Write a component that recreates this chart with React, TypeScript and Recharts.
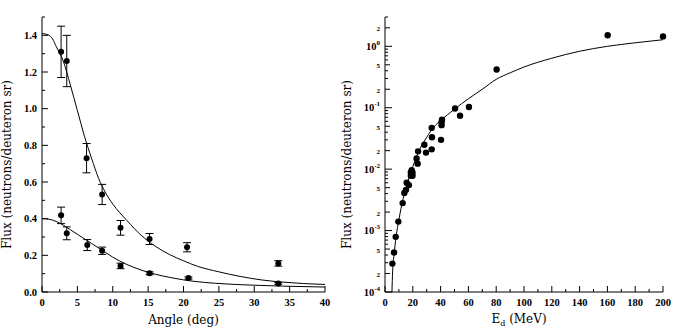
import React from 'react';
import { ComposedChart, Line, Scatter, XAxis, YAxis, ErrorBar, Label } from 'recharts';

// left panel: angular distribution, two energies
const upperPoints = [
  { x: 2.7, y: 1.31, err: 0.14 },
  { x: 3.5, y: 1.26, err: 0.14 },
  { x: 6.3, y: 0.73, err: 0.08 },
  { x: 8.5, y: 0.532, err: 0.055 },
  { x: 11.1, y: 0.35, err: 0.04 },
  { x: 15.2, y: 0.289, err: 0.03 },
  { x: 20.5, y: 0.244, err: 0.025 },
  { x: 33.4, y: 0.156, err: 0.015 },
];
const lowerPoints = [
  { x: 2.7, y: 0.418, err: 0.045 },
  { x: 3.5, y: 0.32, err: 0.035 },
  { x: 6.4, y: 0.256, err: 0.03 },
  { x: 8.5, y: 0.225, err: 0.02 },
  { x: 11.1, y: 0.142, err: 0.015 },
  { x: 15.2, y: 0.102, err: 0.008 },
  { x: 20.7, y: 0.076, err: 0.006 },
  { x: 33.4, y: 0.047, err: 0.005 },
];
const upperCurve = [
  { x: 0, y: 1.41 }, { x: 1, y: 1.4 }, { x: 1.5, y: 1.38 }, { x: 2, y: 1.34 },
  { x: 3, y: 1.26 }, { x: 4, y: 1.13 }, { x: 5, y: 0.99 }, { x: 6, y: 0.85 },
  { x: 7, y: 0.73 }, { x: 8, y: 0.62 }, { x: 9, y: 0.54 }, { x: 10, y: 0.48 },
  { x: 12, y: 0.39 }, { x: 14, y: 0.31 }, { x: 16, y: 0.25 }, { x: 18, y: 0.205 },
  { x: 20, y: 0.17 }, { x: 22, y: 0.14 }, { x: 25, y: 0.11 }, { x: 28, y: 0.085 },
  { x: 31, y: 0.066 }, { x: 34, y: 0.054 }, { x: 37, y: 0.046 }, { x: 40, y: 0.041 },
];
const lowerCurve = [
  { x: 0, y: 0.4 }, { x: 1, y: 0.397 }, { x: 2, y: 0.385 }, { x: 3, y: 0.365 },
  { x: 4, y: 0.34 }, { x: 5, y: 0.315 }, { x: 6, y: 0.29 }, { x: 7, y: 0.265 },
  { x: 8, y: 0.24 }, { x: 9, y: 0.215 }, { x: 10, y: 0.19 }, { x: 12, y: 0.15 },
  { x: 14, y: 0.12 }, { x: 16, y: 0.097 }, { x: 18, y: 0.08 }, { x: 20, y: 0.066 },
  { x: 23, y: 0.052 }, { x: 26, y: 0.044 }, { x: 30, y: 0.037 }, { x: 34, y: 0.032 },
  { x: 40, y: 0.027 },
];

// right panel: yield vs deuteron energy
const energyPoints = [
  { x: 5.3, y: 0.00029 }, { x: 6.5, y: 0.00044 }, { x: 7.7, y: 0.00079 },
  { x: 9.6, y: 0.0014 }, { x: 12.7, y: 0.0028 }, { x: 13.9, y: 0.0041 },
  { x: 15.1, y: 0.0046 }, { x: 15.6, y: 0.006 }, { x: 17.2, y: 0.0055 },
  { x: 18.6, y: 0.0078 }, { x: 19.8, y: 0.0078 }, { x: 18.6, y: 0.0088 },
  { x: 19.8, y: 0.0088 }, { x: 19.2, y: 0.0096 }, { x: 23.5, y: 0.0123 },
  { x: 22.7, y: 0.0149 }, { x: 23.8, y: 0.0195 }, { x: 28.3, y: 0.025 },
  { x: 29.5, y: 0.0186 }, { x: 33.6, y: 0.021 }, { x: 33.8, y: 0.033 },
  { x: 33.6, y: 0.047 }, { x: 40.3, y: 0.03 }, { x: 40.7, y: 0.052 },
  { x: 40.7, y: 0.058 }, { x: 41, y: 0.064 }, { x: 50.4, y: 0.097 },
  { x: 54, y: 0.074 }, { x: 60.4, y: 0.103 }, { x: 80.3, y: 0.42 },
  { x: 160.2, y: 1.51 }, { x: 200, y: 1.45 },
];
const energyCurve = [
  { x: 5, y: 0.0001 }, { x: 5.5, y: 0.00022 }, { x: 6.5, y: 0.0004 }, { x: 8, y: 0.0008 },
  { x: 10, y: 0.0015 }, { x: 13, y: 0.0033 }, { x: 16, y: 0.0058 }, { x: 20, y: 0.011 },
  { x: 25, y: 0.021 }, { x: 30, y: 0.033 }, { x: 35, y: 0.048 }, { x: 40, y: 0.062 },
  { x: 45, y: 0.077 }, { x: 50, y: 0.095 }, { x: 60, y: 0.14 }, { x: 70, y: 0.2 },
  { x: 80, y: 0.29 }, { x: 90, y: 0.37 }, { x: 100, y: 0.46 }, { x: 120, y: 0.64 },
  { x: 140, y: 0.83 }, { x: 160, y: 1.0 }, { x: 180, y: 1.14 }, { x: 200, y: 1.28 },
];

const angleTicks = [0, 2.5, 5, 7.5, 10, 12.5, 15, 17.5, 20, 22.5, 25, 27.5, 30, 32.5, 35, 37.5, 40];
const fluxTicks = [0, 0.1, 0.2, 0.3, 0.4, 0.5, 0.6, 0.7, 0.8, 0.9, 1.0, 1.1, 1.2, 1.3, 1.4, 1.5];
const energyTicks = [0, 10, 20, 30, 40, 50, 60, 70, 80, 90, 100, 110, 120, 130, 140, 150, 160, 170, 180, 190, 200];
const logDecades = [-4, -3, -2, -1, 0];
const logMantissas = [1, 2, 3, 4, 5, 6, 7, 8, 9];
const logTicks = logDecades
  .flatMap((d) => logMantissas.map((m) => m * Math.pow(10, d)))
  .filter((v) => v <= 3.0001);

const FONT = '"Liberation Serif", "DejaVu Serif", serif';
const TITLE_FONT = '"DejaVu Serif", serif';

const isAngleMajor = (v: number) => v % 5 === 0;
const isFluxMajor = (v: number) => Math.round(v * 10) % 2 === 0;
const isEnergyMajor = (v: number) => v % 20 === 0;
const mantissa = (v: number) => Math.round(v / Math.pow(10, Math.floor(Math.log10(v) + 1e-9)));
const logLen = (v: number) => (mantissa(v) === 1 ? 7 : mantissa(v) === 2 || mantissa(v) === 5 ? 5 : 3);

type Side = 'bottom' | 'top' | 'left' | 'right';

const makeTick = (side: Side, lenOf: (v: number) => number, labelOf?: (v: number) => React.ReactNode) =>
  (props: any) => {
    const { x, y, payload } = props;
    const v = payload.value as number;
    const len = lenOf(v);
    let line = null;
    if (side === 'bottom') line = <line x1={x} x2={x} y1={y} y2={y - len} stroke="#000" />;
    if (side === 'top') line = <line x1={x} x2={x} y1={y} y2={y + len} stroke="#000" />;
    if (side === 'left') line = <line x1={x} x2={x + len} y1={y} y2={y} stroke="#000" />;
    if (side === 'right') line = <line x1={x} x2={x - len} y1={y} y2={y} stroke="#000" />;
    const label = labelOf ? labelOf(v) : null;
    return (
      <g>
        {line}
        {label != null && side === 'bottom' && (
          <text x={x} y={y + 14} textAnchor="middle" fontFamily={FONT} fontWeight="bold" fontSize={10.5} fill="#000">
            {label}
          </text>
        )}
        {label != null && side === 'left' && (
          <text x={x - 5} y={y + 3.5} textAnchor="end" fontFamily={FONT} fontWeight="bold" fontSize={10.5} fill="#000">
            {label}
          </text>
        )}
      </g>
    );
  };

const logLabel = (v: number) => {
  const m = mantissa(v);
  if (m === 1) {
    const e = Math.round(Math.log10(v));
    return (
      <>
        <tspan>10</tspan>
        <tspan dy={-5} fontSize={7}>{e}</tspan>
      </>
    );
  }
  if (m === 2 || m === 5) return <tspan fontSize={7}>{m}</tspan>;
  return null;
};

const YTitle = (p: any) => {
  const vb = p.viewBox;
  const cx = vb.x + 7;
  const cy = vb.y + vb.height / 2 + 10;
  return (
    <text x={cx} y={cy} transform={`rotate(-90, ${cx}, ${cy})`} textAnchor="middle" dominantBaseline="central"
      fontFamily={TITLE_FONT} fontSize={12} fill="#000">
      Flux (neutrons/deuteron sr)
    </text>
  );
};

const dot = (r: number) => (p: any) => <circle cx={p.cx} cy={p.cy} r={r} fill="#000" />;

const axisCommon = { tickSize: 0, tickMargin: 0, tickLine: false, interval: 0 as const, stroke: '#000' };

const App: React.FC = () => (
  <div style={{ position: 'fixed', left: 0, top: 0, width: 673, height: 329, background: '#fff', overflow: 'visible' }}>
    <div style={{ position: 'absolute', left: 0, top: 0 }}>
      <ComposedChart width={340} height={329} margin={{ top: 17, right: 15, bottom: 0, left: 0 }} style={{ overflow: 'visible' }}>
        <XAxis xAxisId="b" type="number" dataKey="x" domain={[0, 40]} ticks={angleTicks} height={37}
          {...axisCommon} tick={makeTick('bottom', (v) => (isAngleMajor(v) ? 6 : 3), (v) => (isAngleMajor(v) ? String(v) : null))}>
          <Label content={(p: any) => (
            <text x={p.viewBox.x + p.viewBox.width / 2} y={p.viewBox.y + 32} textAnchor="middle"
              fontFamily={TITLE_FONT} fontSize={12} fill="#000">Angle (deg)</text>
          )} />
        </XAxis>
        <XAxis xAxisId="t" orientation="top" type="number" dataKey="x" domain={[0, 40]} ticks={angleTicks} height={0}
          {...axisCommon} tick={makeTick('top', (v) => (isAngleMajor(v) ? 6 : 3))} />
        <YAxis yAxisId="l" type="number" domain={[0, 1.5]} ticks={fluxTicks} width={42} allowDataOverflow
          {...axisCommon} tick={makeTick('left', (v) => (isFluxMajor(v) ? 6 : 3), (v) => (isFluxMajor(v) ? v.toFixed(1) : null))}>
          <Label content={YTitle} />
        </YAxis>
        <YAxis yAxisId="r" orientation="right" type="number" domain={[0, 1.5]} ticks={fluxTicks} width={0} allowDataOverflow
          {...axisCommon} tick={makeTick('right', (v) => (isFluxMajor(v) ? 6 : 3))} />
        <Line xAxisId="b" yAxisId="l" data={upperCurve} dataKey="y" type="monotone" stroke="#000" strokeWidth={1} dot={false} isAnimationActive={false} />
        <Line xAxisId="b" yAxisId="l" data={lowerCurve} dataKey="y" type="monotone" stroke="#000" strokeWidth={1} dot={false} isAnimationActive={false} />
        <Scatter xAxisId="b" yAxisId="l" data={upperPoints} dataKey="y" shape={dot(3)} isAnimationActive={false}>
          <ErrorBar dataKey="err" direction="y" width={4} stroke="#000" strokeWidth={1} />
        </Scatter>
        <Scatter xAxisId="b" yAxisId="l" data={lowerPoints} dataKey="y" shape={dot(3)} isAnimationActive={false}>
          <ErrorBar dataKey="err" direction="y" width={4} stroke="#000" strokeWidth={1} />
        </Scatter>
      </ComposedChart>
    </div>
    <div style={{ position: 'absolute', left: 340, top: 0 }}>
      <ComposedChart width={333} height={329} margin={{ top: 17, right: 10, bottom: 0, left: 0 }}>
        <XAxis xAxisId="b" type="number" dataKey="x" domain={[0, 200]} ticks={energyTicks} height={37}
          {...axisCommon} tick={makeTick('bottom', (v) => (isEnergyMajor(v) ? 6 : 3), (v) => (isEnergyMajor(v) ? String(v) : null))}>
          <Label content={(p: any) => (
            <text x={p.viewBox.x + p.viewBox.width / 2 - 5} y={p.viewBox.y + 31} textAnchor="middle"
              fontFamily={TITLE_FONT} fontSize={12} fill="#000">
              <tspan>E</tspan><tspan dy={2.5} fontSize={8}>d</tspan><tspan dy={-2.5}> (MeV)</tspan>
            </text>
          )} />
        </XAxis>
        <XAxis xAxisId="t" orientation="top" type="number" dataKey="x" domain={[0, 200]} ticks={energyTicks} height={0}
          {...axisCommon} tick={makeTick('top', (v) => (isEnergyMajor(v) ? 6 : 3))} />
        <YAxis yAxisId="l" type="number" scale="log" domain={[1e-4, 3]} ticks={logTicks} width={45} allowDataOverflow
          {...axisCommon} tick={makeTick('left', logLen, logLabel)}>
          <Label content={YTitle} />
        </YAxis>
        <YAxis yAxisId="r" orientation="right" type="number" scale="log" domain={[1e-4, 3]} ticks={logTicks} width={0} allowDataOverflow
          {...axisCommon} tick={makeTick('right', logLen)} />
        <Line xAxisId="b" yAxisId="l" data={energyCurve} dataKey="y" type="monotone" stroke="#000" strokeWidth={1} dot={false} isAnimationActive={false} />
        <Scatter xAxisId="b" yAxisId="l" data={energyPoints} dataKey="y" shape={dot(3.2)} isAnimationActive={false} />
      </ComposedChart>
    </div>
  </div>
);

export default App;
